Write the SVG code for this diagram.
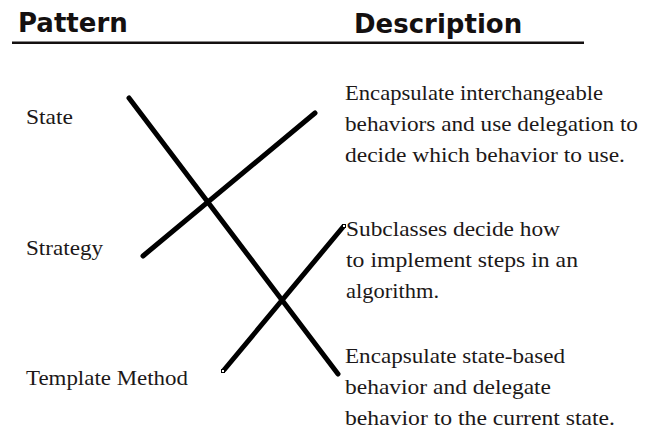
<svg xmlns="http://www.w3.org/2000/svg" width="653" height="437" viewBox="0 0 653 437">
  <style>
    .head { font-family: "DejaVu Sans", "Liberation Sans", sans-serif; font-weight: bold; font-size: 26px; fill: #141010; }
    .label { font-family: "Liberation Serif", "DejaVu Serif", serif; font-size: 21px; fill: #1c1818; }
    .desc { font-family: "Liberation Serif", "DejaVu Serif", serif; font-size: 21px; fill: #1c1818; }
    .link { stroke: #000; stroke-width: 5; stroke-linecap: round; fill: none; }
    .handle { fill: #fff; stroke: #000; stroke-width: 1; }
  </style>
  <rect width="653" height="437" fill="#fff"/>

  <!-- column headings -->
  <g id="header">
    <text class="head" x="18" y="32">Pattern</text>
    <text class="head" x="354" y="33">Description</text>
    <line x1="12" y1="42.7" x2="584" y2="42.7" stroke="#141010" stroke-width="2.6"/>
  </g>

  <!-- pattern names -->
  <g id="pattern-state"><text class="label" x="26" y="124" textLength="47" lengthAdjust="spacingAndGlyphs">State</text></g>
  <g id="pattern-strategy"><text class="label" x="26" y="255" textLength="77" lengthAdjust="spacingAndGlyphs">Strategy</text></g>
  <g id="pattern-template"><text class="label" x="26" y="385" textLength="162" lengthAdjust="spacingAndGlyphs">Template Method</text></g>

  <!-- descriptions -->
  <g id="desc-strategy">
    <text class="desc" x="345" y="100" textLength="258" lengthAdjust="spacingAndGlyphs">Encapsulate interchangeable</text>
    <text class="desc" x="345" y="131" textLength="293" lengthAdjust="spacingAndGlyphs">behaviors and use delegation to</text>
    <text class="desc" x="345" y="162" textLength="280" lengthAdjust="spacingAndGlyphs">decide which behavior to use.</text>
  </g>
  <g id="desc-template">
    <text class="desc" x="346" y="236" textLength="214" lengthAdjust="spacingAndGlyphs">Subclasses decide how</text>
    <text class="desc" x="346" y="267" textLength="232" lengthAdjust="spacingAndGlyphs">to implement steps in an</text>
    <text class="desc" x="346" y="298" textLength="93" lengthAdjust="spacingAndGlyphs">algorithm.</text>
  </g>
  <g id="desc-state">
    <text class="desc" x="345" y="363" textLength="220" lengthAdjust="spacingAndGlyphs">Encapsulate state-based</text>
    <text class="desc" x="345" y="394" textLength="206" lengthAdjust="spacingAndGlyphs">behavior and delegate</text>
    <text class="desc" x="345" y="425" textLength="270" lengthAdjust="spacingAndGlyphs">behavior to the current state.</text>
  </g>

  <!-- matching lines -->
  <g id="connectors">
    <line class="link" x1="129" y1="98" x2="338" y2="374"/>
    <line class="link" x1="143" y1="256" x2="315" y2="113"/>
    <line class="link" x1="224" y1="370" x2="343" y2="227"/>
    <rect class="handle" x="221.5" y="369.5" width="3" height="3"/>
    <rect class="handle" x="342.5" y="224.5" width="3" height="3"/>
  </g>
</svg>
